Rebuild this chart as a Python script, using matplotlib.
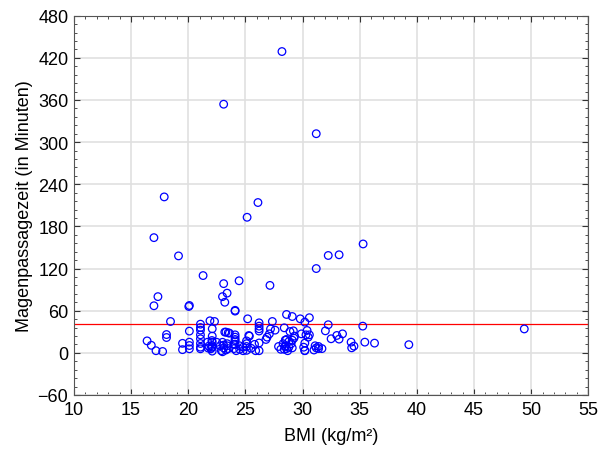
import matplotlib.pyplot as plt
from matplotlib.ticker import MultipleLocator

plt.rcParams['font.family'] = ['Liberation Sans', 'DejaVu Sans']

# BMI (kg/m²) and gastric transit time (minutes)
bmi = [28.2, 23.1, 31.2, 17.9, 26.1, 25.15, 17.0, 35.3, 19.15, 32.25, 33.2, 31.2,
       21.3, 24.45, 23.1, 27.15, 23.4, 17.35, 23.0, 23.2, 17.0, 20.1, 20.05, 24.1,
       24.1, 28.6, 29.1, 30.6, 29.8, 25.2, 21.9, 22.3, 18.45, 27.36, 30.2, 26.2,
       21.07, 32.25, 35.27, 26.2, 21.07, 28.4, 22.1, 26.2, 49.4, 27.6, 21.07, 30.4,
       32.0, 29.2, 26.2, 20.1, 28.9, 23.3, 23.5, 29.9, 27.1, 33.5, 18.1, 24.1,
       21.07, 30.3, 30.6, 33.0, 25.35, 22.1, 29.3, 30.5, 26.9, 24.1, 18.1, 29.25,
       32.5, 21.07, 33.2, 28.6, 26.8, 24.1, 16.4, 34.25, 35.45, 21.7, 22.1, 20.1,
       36.3, 30.2, 19.5, 21.07, 39.3, 16.77, 20.1, 34.5, 34.3, 21.07, 22.1, 21.8,
       30.2, 19.5, 20.1, 17.18, 17.76, 21.07, 21.98, 22.1, 21.75,
       22.5, 22.8, 23.0, 23.1, 23.1, 23.3, 23.4, 23.4, 23.5, 22.9, 23.0,
       24.0, 24.0, 24.2, 24.5, 24.5, 24.8, 24.8,
       25.1, 25.1, 25.1, 25.1, 25.5, 25.8, 26.2, 26.2, 25.9,
       27.9, 28.3, 28.5, 28.6, 28.1,
       28.5, 28.8, 29.1, 29.0, 28.5, 28.8, 28.4, 29.1, 28.7,
       30.1, 30.2, 31.1, 31.2, 31.4, 31.7, 31.4, 31.0,
       22.1, 23.2, 23.6, 25.3, 24.1, 24.1, 27.2, 28.5, 22.07, 22.07]
zeit = [429, 354, 312, 222, 214, 193, 164, 155, 138, 138.6, 139.6, 120,
        110, 102.6, 98.5, 96, 85, 80, 80, 72, 67, 67.4, 66, 59.4,
        60.5, 54.6, 51.7, 50, 48.4, 48.4, 45.6, 44.6, 44.6, 44.6, 43.7, 42.7,
        40.8, 40, 38, 38, 36, 35.6, 34.2, 34.2, 34, 32.3, 32.3, 31.8,
        31.3, 31.3, 31, 30.9, 30.3, 29.5, 28.5, 27, 27, 27, 26, 25.6,
        25.6, 25.6, 25.6, 24.7, 23.8, 23.8, 23.8, 22.3, 22.3, 22.3, 21.8, 20.9,
        20, 20, 19.5, 19, 19, 19, 17, 15.2, 15.2, 15.2, 15.2, 15.2,
        13.8, 13.8, 13.5, 13.3, 11.6, 10.7, 10.4, 9.5, 7.1, 8, 8.1, 9.5,
        3.3, 4.5, 5.7, 3, 1.9, 5.7, 5.7, 2.4, 6.7,
        15, 10, 15, 11, 7, 4, 10, 13, 6, 3, 1.5,
        12, 6, 3, 10, 5, 8, 3,
        17, 13, 9, 3.5, 6.5, 12, 14, 3, 3,
        9, 13, 9, 6, 5,
        18, 16, 18, 13, 10, 8, 5, 7, 3,
        8, 3, 10, 7, 6, 6, 9, 4,
        8, 29.5, 28, 24.6, 12, 17, 34, 18, 17.5, 10.4]
ref_line = 41

fig, ax = plt.subplots(figsize=(6.16, 4.52), dpi=100)
fig.subplots_adjust(left=0.120, right=0.955, top=0.963, bottom=0.124)

ax.scatter(bmi, zeit, s=30, facecolors='none', edgecolors='#0000ff',
           linewidths=0.9, zorder=3)
ax.axhline(ref_line, color='#ff0000', linewidth=0.9, zorder=2)

ax.set_xlim(10, 55)
ax.set_ylim(-60, 480)
ax.xaxis.set_major_locator(MultipleLocator(5))
ax.xaxis.set_minor_locator(MultipleLocator(1))
ax.yaxis.set_major_locator(MultipleLocator(60))
ax.yaxis.set_minor_locator(MultipleLocator(12))
ax.grid(True, which='major', color='#e0e0e0', linewidth=1.2, zorder=0)
ax.set_axisbelow(True)

ax.tick_params(which='both', direction='in', top=True, right=True,
               labelsize=13, color='#333333')
ax.tick_params(which='major', length=4, pad=4)
ax.tick_params(which='minor', length=2)
for s in ax.spines.values():
    s.set_color('#555555')

ax.set_xlabel('BMI (kg/m²)', fontsize=13, labelpad=7)
ax.set_ylabel('Magenpassagezeit (in Minuten)', fontsize=13, labelpad=3)

fig.savefig('out.png', dpi=100)
